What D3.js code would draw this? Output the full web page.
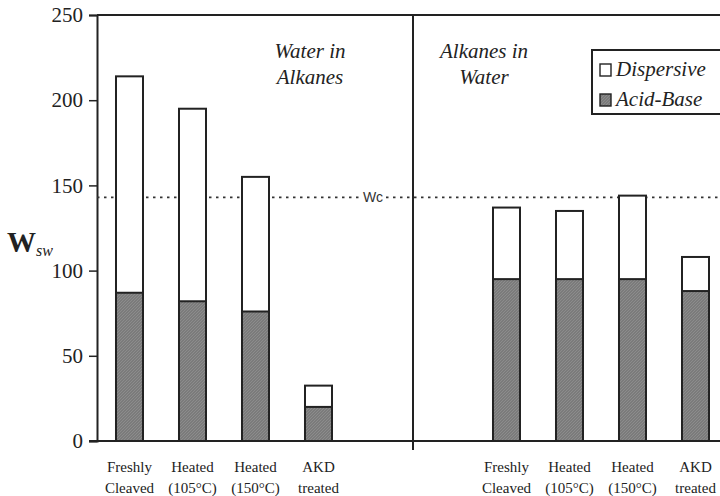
<!DOCTYPE html>
<html>
<head>
<meta charset="utf-8">
<script src="https://cdn.jsdelivr.net/npm/d3@7"></script>
<style>
  body { margin: 0; background: #fff; }
  svg { display: block; }
</style>
</head>
<body>
<script>
// chart data
const categories = ["Freshly|Cleaved", "Heated|(105°C)", "Heated|(150°C)", "AKD|treated"];
const groups = ["Water in|Alkanes", "Alkanes in|Water"];
const acidBase = [[87, 82, 76, 20], [95, 95, 95, 88]];
const total = [[214, 195, 155, 32.5], [137, 135, 144, 108]];
const yTicks = [0, 50, 100, 150, 200, 250];
const wc = 143;
const legendLabels = ["Dispersive", "Acid-Base"];

const W = 720, H = 496;
const serif = "Liberation Serif";

const svg = d3.select("body").append("svg").attr("width", W).attr("height", H);

const x0 = 97, x1 = 730, divX = 413;
const y = d3.scaleLinear().domain([0, 250]).range([441, 15]);

// band scales for the two panels
const xL = d3.scaleBand().domain(categories).range([84.5, 363.5]).paddingInner(0.5714).paddingOuter(0.5);
const xR = d3.scaleBand().domain(categories).range([461.5, 740.5]).paddingInner(0.5714).paddingOuter(0.5);
const xs = [xL, xR];

// pattern for acid-base fill
const defs = svg.append("defs");
const pat = defs.append("pattern").attr("id", "hatch").attr("patternUnits", "userSpaceOnUse")
  .attr("width", 3).attr("height", 3);
pat.append("rect").attr("width", 3).attr("height", 3).attr("fill", "#7b7b7b");
pat.append("path").attr("d", "M0,3 L3,0").attr("stroke", "#909090").attr("stroke-width", 0.8);

// y axis
const yAxis = d3.axisLeft(y).tickValues(yTicks).tickSize(8).tickPadding(6);
const gy = svg.append("g").attr("transform", `translate(${x0},0)`).call(yAxis);
gy.select(".domain").attr("stroke", "#222").attr("stroke-width", 2);
gy.selectAll(".tick line").attr("stroke", "#222").attr("stroke-width", 1.5);
gy.selectAll(".tick text").attr("font-family", serif).attr("font-size", 21).attr("fill", "#222");

// frame lines
svg.append("line").attr("x1", x0).attr("x2", x1).attr("y1", y(250)).attr("y2", y(250))
  .attr("stroke", "#222").attr("stroke-width", 2);
svg.append("line").attr("x1", x0 - 8).attr("x2", x1).attr("y1", y(0)).attr("y2", y(0))
  .attr("stroke", "#222").attr("stroke-width", 2);
svg.append("line").attr("x1", divX).attr("x2", divX).attr("y1", y(250)).attr("y2", 450)
  .attr("stroke", "#222").attr("stroke-width", 2);

// Wc dotted line
svg.append("line").attr("x1", x0).attr("x2", 361).attr("y1", y(wc)).attr("y2", y(wc))
  .attr("stroke", "#333").attr("stroke-width", 1.6).attr("stroke-dasharray", "2.5,4.5");
svg.append("line").attr("x1", 386).attr("x2", x1).attr("y1", y(wc)).attr("y2", y(wc))
  .attr("stroke", "#333").attr("stroke-width", 1.6).attr("stroke-dasharray", "2.5,4.5");
svg.append("text").attr("x", 373).attr("y", y(wc) + 5).attr("text-anchor", "middle")
  .attr("font-family", "Liberation Sans").attr("font-size", 14)
  .attr("fill", "#333").text("Wc");

// bars
groups.forEach((g, gi) => {
  const xb = xs[gi];
  const bars = svg.append("g").selectAll("g").data(categories).join("g");
  bars.append("rect")
    .attr("x", d => xb(d)).attr("width", xb.bandwidth())
    .attr("y", (d, i) => y(total[gi][i]))
    .attr("height", (d, i) => y(0) - y(total[gi][i]))
    .attr("fill", "#fff").attr("stroke", "#222").attr("stroke-width", 2);
  bars.append("rect")
    .attr("x", d => xb(d)).attr("width", xb.bandwidth())
    .attr("y", (d, i) => y(acidBase[gi][i]))
    .attr("height", (d, i) => y(0) - y(acidBase[gi][i]))
    .attr("fill", "url(#hatch)").attr("stroke", "#222").attr("stroke-width", 2);

  // category labels
  const lab = svg.append("g").selectAll("text").data(categories).join("text")
    .attr("text-anchor", "middle")
    .attr("font-family", serif).attr("font-size", 15).attr("fill", "#222");
  lab.append("tspan").attr("x", d => xb(d) + xb.bandwidth() / 2).attr("y", 472)
    .text(d => d.split("|")[0]);
  lab.append("tspan").attr("x", d => xb(d) + xb.bandwidth() / 2).attr("y", 493)
    .text(d => d.split("|")[1]);
});

// panel titles
const titleX = [310, 484];
groups.forEach((g, gi) => {
  const t = svg.append("text").attr("text-anchor", "middle")
    .attr("font-family", serif).attr("font-style", "italic").attr("font-size", 21).attr("fill", "#222");
  t.append("tspan").attr("x", titleX[gi]).attr("y", 58).text(g.split("|")[0]);
  t.append("tspan").attr("x", titleX[gi]).attr("y", 84).text(g.split("|")[1]);
});

// y label
const yl = svg.append("text").attr("x", 7).attr("y", 252).attr("font-family", serif).attr("fill", "#222");
yl.append("tspan").attr("font-size", 29).attr("font-weight", "bold").text("W");
yl.append("tspan").attr("font-size", 16).attr("font-style", "italic").attr("dy", 4).text("sw");

// legend
const lg = svg.append("g").attr("transform", "translate(592,50)");
lg.append("rect").attr("x", 0).attr("y", 0).attr("width", 140).attr("height", 64)
  .attr("fill", "#fff").attr("stroke", "#222").attr("stroke-width", 2);
legendLabels.forEach((l, i) => {
  lg.append("rect").attr("x", 8).attr("y", 14 + i * 30).attr("width", 11).attr("height", 12)
    .attr("fill", i === 0 ? "#fff" : "url(#hatch)").attr("stroke", "#222").attr("stroke-width", 1.4);
  lg.append("text").attr("x", 24).attr("y", 26 + i * 30)
    .attr("font-family", serif).attr("font-style", "italic").attr("font-size", 21).attr("fill", "#222")
    .text(l);
});
</script>
</body>
</html>
